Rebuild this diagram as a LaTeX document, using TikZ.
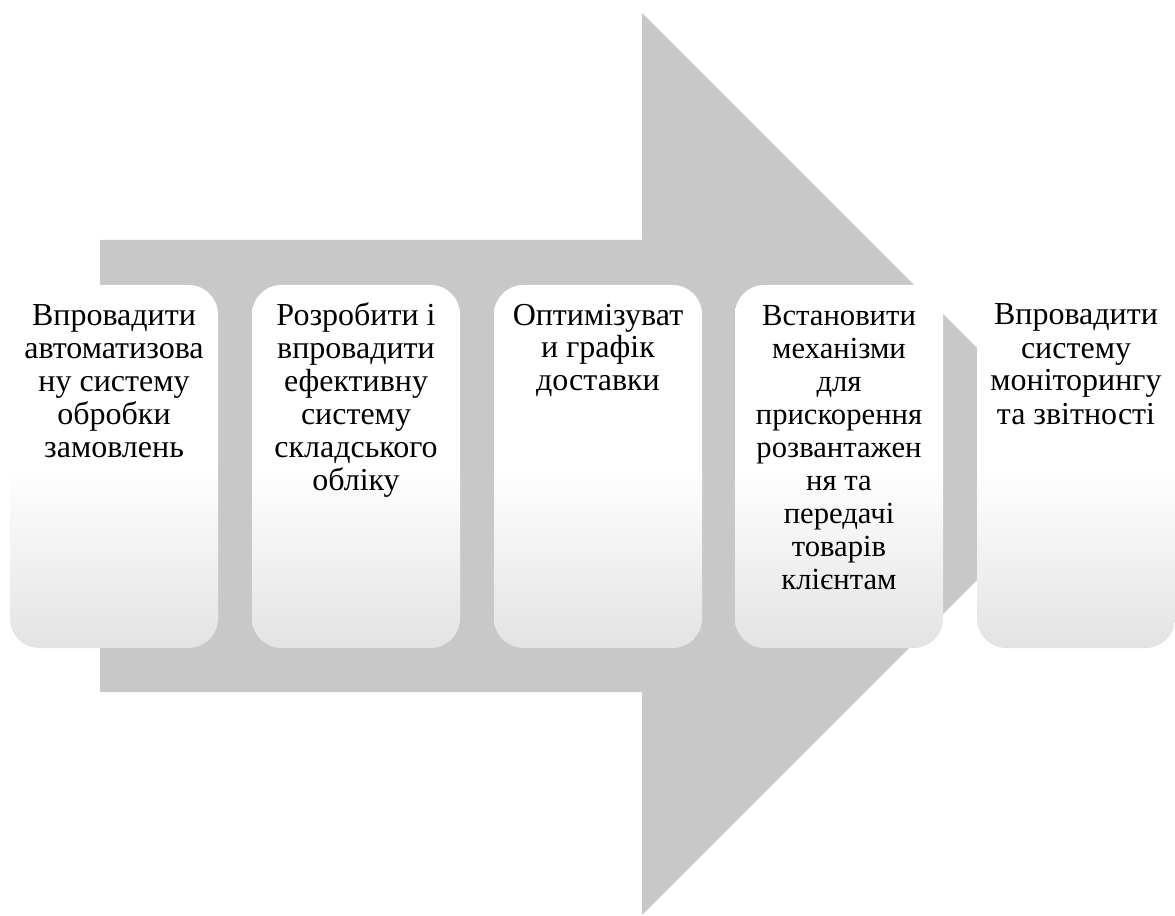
\documentclass[tikz,border=0pt]{standalone}
\usepackage{fontspec}
\setmainfont{Liberation Serif}
\definecolor{arrowgray}{HTML}{C8C8C8}
\definecolor{cardgray}{HTML}{E3E3E3}
\newcommand{\firstline}{\rule{0pt}{18pt}}

\begin{document}
\begin{tikzpicture}[x=0.75pt, y=-0.75pt,
	stepcard/.style={rounded corners=22pt, inner sep=0pt, minimum width=156pt, minimum height=272.25pt,
		top color=white, bottom color=cardgray, middle color=white},
	steptext/.style={anchor=north, align=center, inner sep=0pt, font=\fontsize{24}{24.75}\selectfont}]
	%%%%% START %%%%%
	\useasboundingbox (0,0) rectangle (1175,916);
	
	\fill[arrowgray] (100,240) -- (642,240) -- (642,13) -- (1093,464) -- (642,915) -- (642,692) -- (100,692) -- cycle;
	
	\node[stepcard] (card1) at (114,466.5) {};
	\node[stepcard] (card2) at (356,466.5) {};
	\node[stepcard] (card3) at (598,466.5) {};
	\node[stepcard] (card4) at (839,466.5) {};
	\node[stepcard, minimum width=148.5pt] (card5) at (1076,466.5) {};
	
	\node[steptext] (text1) at ([yshift=-12pt]card1.north) {\firstline Впровадити\\автоматизова\\ну систему\\обробки\\замовлень};
	\node[steptext] (text2) at ([yshift=-12pt]card2.north) {\firstline Розробити і\\впровадити\\ефективну\\систему\\складського\\обліку};
	\node[steptext] (text3) at ([yshift=-12pt]card3.north) {\firstline Оптимізуват\\и графік\\доставки};
	\node[steptext, font=\fontsize{23}{24.75}\selectfont] (text4) at ([yshift=-12pt]card4.north) {\firstline Встановити\\механізми\\для\\прискорення\\розвантажен\\ня та\\передачі\\товарів\\клієнтам};
	\node[steptext] (text5) at ([yshift=-12pt]card5.north) {\firstline Впровадити\\систему\\моніторингу\\та звітності};
	
	%%%%% END %%%%%
\end{tikzpicture}
\end{document}
